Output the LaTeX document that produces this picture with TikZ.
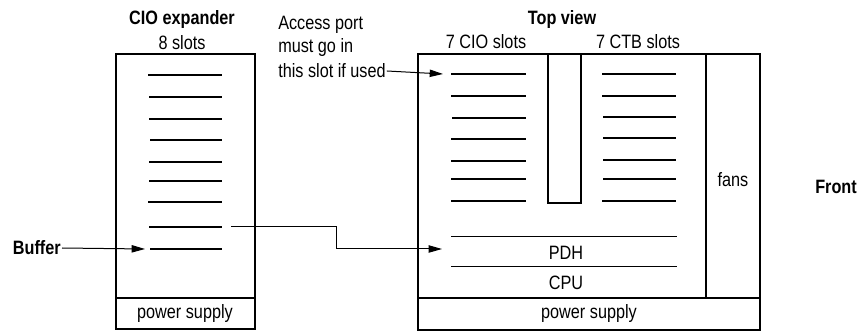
\documentclass[tikz,border=0pt]{standalone}
\usepackage{fontspec}
\setmainfont[FakeStretch=0.84]{Liberation Sans}
\usetikzlibrary{arrows.meta}

\tikzset{
  slot/.style={line width=1.9pt},
  frame/.style={line width=0.9pt},
  thin/.style={line width=0.75pt},
  arr/.style={line width=0.75pt,-{Triangle[length=10pt,width=5.5pt]}},
  lbl/.style={inner sep=0.75pt,font=\fontsize{14.5}{17}\selectfont},
  bold/.style={lbl,font=\fontsize{14.5}{17}\selectfont\bfseries}
}

\begin{document}
\begin{tikzpicture}[x=0.75pt,y=0.75pt,yscale=-1,xscale=1]
\useasboundingbox (0,0) rectangle (864,331);

%Shape: Rectangle [CIO expander]
\draw[frame] (116,54) rectangle (255,329);
%Straight Lines [expander power supply]
\draw[frame] (116,298) -- (255,298);
%Shape: Rectangle [top view]
\draw[frame] (418,54) rectangle (760,330);
%Straight Lines [top view power supply]
\draw[frame] (418,298) -- (760,298);
%Straight Lines [fans]
\draw[frame] (706,54) -- (706,298);
%Shape: Rectangle [divider]
\draw[frame] (548,54) rectangle (581,203);
%Straight Lines [PDH]
\draw[thin] (451,237) -- (677,237);
\draw[thin] (451,267) -- (677,267);

%Straight Lines [expander slots]
\draw[slot] (148,75) -- (222,75);
\draw[slot] (149,97) -- (222,97);
\draw[slot] (149,119) -- (222,119);
\draw[slot] (150,140) -- (222,140);
\draw[slot] (149,162) -- (222,162);
\draw[slot] (149,181) -- (222,181);
\draw[slot] (148,202) -- (222,202);
\draw[slot] (149,227) -- (222,227);
\draw[slot] (150,249) -- (222,249);
%Straight Lines [CIO slots]
\draw[slot] (451,74) -- (526,74);
\draw[slot] (451,96) -- (526,96);
\draw[slot] (452,118) -- (526,118);
\draw[slot] (451,139) -- (526,139);
\draw[slot] (451,161) -- (526,161);
\draw[slot] (451,179) -- (526,179);
\draw[slot] (451,201) -- (526,201);
%Straight Lines [CTB slots]
\draw[slot] (602,74) -- (676,74);
\draw[slot] (602,96) -- (676,96);
\draw[slot] (603,117) -- (676,117);
\draw[slot] (603,138) -- (676,138);
\draw[slot] (603,160) -- (676,160);
\draw[slot] (603,179) -- (676,179);
\draw[slot] (602,201) -- (676,201);

% Text Node
\node[bold] (expander) at (182,20) {CIO expander};
% Text Node
\node[lbl] (eightslots) at (182,43) {8 slots};
% Text Node
\node[bold] (topview) at (562,20) {Top view};
% Text Node
\node[lbl] (cioslots) at (486,42) {7 CIO slots};
% Text Node
\node[lbl] (ctbslots) at (638,42) {7 CTB slots};
% Text Node
\node[lbl,anchor=west] (access1) at (277,25) {Access port};
% Text Node
\node[lbl,anchor=west] (access2) at (277,48) {must go in};
% Text Node
\node[lbl,anchor=west] (access3) at (277,71) {this slot if used};
% Text Node
\node[bold,anchor=east] (buffer) at (62,248) {Buffer};
% Text Node
\node[lbl] (pdh) at (566,253) {PDH};
% Text Node
\node[lbl] (cpu) at (566,283) {CPU};
% Text Node
\node[lbl] (fans) at (733,180) {fans};
% Text Node
\node[bold] (front) at (836,187) {Front};
% Text Node
\node[lbl] (psleft) at (185,314) {power supply};
% Text Node
\node[lbl] (psright) at (589,314) {power supply};

% Connectors
\coordinate (bufslot) at (145,249);
\coordinate (cioslot) at (443,74);
\coordinate (src) at (231,227);
\coordinate (bend) at (336,227);
\coordinate (pdhin) at (442,249);
\draw[arr] (buffer.east) -- (bufslot);
\draw[arr] (access3.east) -- (cioslot);
\draw[arr] (src) -- (bend) |- (pdhin);
\end{tikzpicture}
\end{document}
